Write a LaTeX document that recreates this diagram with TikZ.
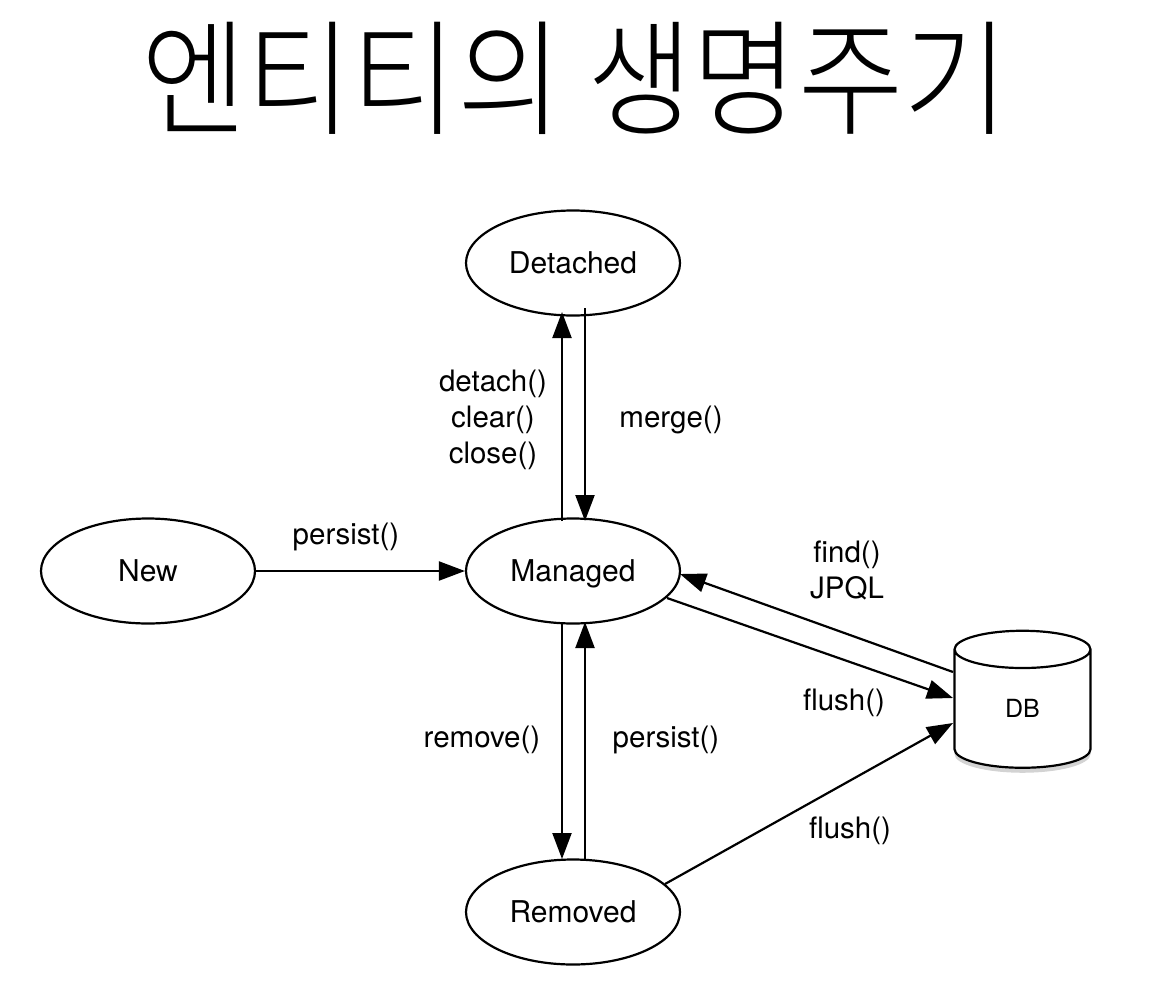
\documentclass[tikz,border=0pt]{standalone}
\usepackage{fontspec}
\setmainfont{TeX Gyre Heros}
\newfontfamily\cjk{Noto Sans CJK KR Light}
\usetikzlibrary{shapes.geometric,shadows,arrows.meta}
\tikzset{
    state/.style={ellipse, draw, line width=2.2pt, minimum width=214pt, minimum height=105pt, font=\fontsize{30}{30}\selectfont, text height=21pt, text depth=0pt, inner sep=0pt},
    call/.style={font=\fontsize{29.5}{36}\selectfont, align=center},
    conn/.style={line width=2.2pt, -{Triangle[length=26pt,width=19pt]}},
}
\begin{document}
\begin{tikzpicture}[x=1pt, y=-1pt]
                \useasboundingbox (0, 0) rectangle (1161, 980);
                \node(title) at(575, 78) [xscale=0.953, yscale=1.05] {\cjk\fontsize{120}{120}\selectfont 엔티티의 생명주기};
                \node(det) at(573, 263) [state] {Detached};
                \node(new) at(148, 571) [state] {New};
                \node(man) at(573, 571) [state] {Managed};
                \node(rem) at(573, 912) [state] {Removed};
                \node(db) at(1022.5, 712) [cylinder, shape border rotate=90, aspect=0.9, draw, line width=2.2pt, fill=white, minimum width=136pt, minimum height=137pt, font=\fontsize{25}{25}\selectfont, drop shadow={shadow xshift=0pt, shadow yshift=-5pt, opacity=0.35}] {\raisebox{7pt}{DB}};
                \coordinate(m1) at(562, 521);
                \coordinate(d1) at(562, 312);
                \coordinate(m2) at(585, 521);
                \coordinate(d2) at(585, 308);
                \coordinate(m3) at(562, 622);
                \coordinate(r3) at(562, 859);
                \coordinate(m4) at(585, 622);
                \coordinate(r4) at(585, 859);
                \draw[conn] (m1) -- (d1);
                \draw[conn] (d2) -- (m2);
                \draw[conn] (new) -- (man);
                \draw[conn] (m3) -- (r3);
                \draw[conn] (r4) -- (m4);
                \coordinate(db1) at(953, 672);
                \coordinate(db2) at(953, 698);
                \coordinate(db3) at(953, 723);
                \coordinate(m5) at(680, 574);
                \coordinate(m6) at(667, 598);
                \coordinate(r5) at(665, 884);
                \draw[conn] (db1) -- (m5);
                \draw[conn] (m6) -- (db2);
                \draw[conn] (r5) -- (db3);
                \node(detach) at(493, 420) [call] {detach()\\clear()\\close()};
                \node(merge) at(671, 420) [call] {merge()};
                \node(persist) at(346, 537) [call] {persist()};
                \node(find) at(847, 570) [call] {find()\\JPQL};
                \node(flush) at(844, 703) [call] {flush()};
                \node(remove) at(482, 740) [call] {remove()};
                \node(persist2) at(666, 740) [call] {persist()};
                \node(flush2) at(850, 831) [call] {flush()};
            \end{tikzpicture}
\end{document}
